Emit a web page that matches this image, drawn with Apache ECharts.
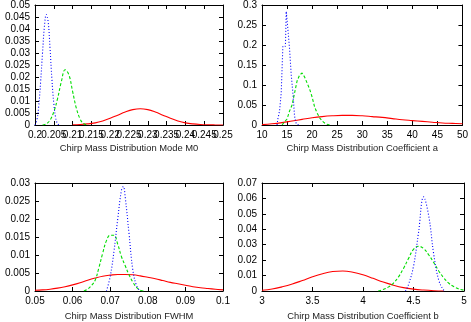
<!DOCTYPE html>
<html>
<head>
<meta charset="utf-8">
<script src="https://cdn.jsdelivr.net/npm/echarts@6/dist/echarts.min.js"></script>
<style>
  html, body { margin: 0; padding: 0; background: #fff; }
  #main { width: 471px; height: 322px; }
</style>
</head>
<body>
<div id="main"></div>
<script>
/* panel 1: Mode M0 */
const m0BlueX = [0.2000, 0.2005, 0.2010, 0.2015, 0.2020, 0.2025, 0.2030, 0.2035, 0.2040, 0.2045, 0.2050, 0.2055, 0.2060, 0.2065];
const m0BlueY = [0, 0.002, 0.008, 0.018, 0.030, 0.041, 0.046, 0.043, 0.032, 0.019, 0.009, 0.003, 0.0005, 0];
const m0GreenX = [0.202, 0.203, 0.204, 0.205, 0.206, 0.207, 0.208, 0.209, 0.210, 0.211, 0.212, 0.213, 0.214];
const m0GreenY = [0, 0.0005, 0.002, 0.0055, 0.011, 0.018, 0.023, 0.021, 0.014, 0.007, 0.0025, 0.0005, 0];
const m0RedX = [0.210, 0.212, 0.214, 0.216, 0.218, 0.220, 0.222, 0.224, 0.226, 0.228, 0.230, 0.232, 0.234, 0.236, 0.238, 0.240, 0.242, 0.244, 0.246, 0.248, 0.250];
const m0RedY = [0.00008, 0.0002, 0.00045, 0.0009, 0.0017, 0.0028, 0.0041, 0.0054, 0.0064, 0.0068, 0.0064, 0.0054, 0.0041, 0.0028, 0.0017, 0.0009, 0.00045, 0.0002, 0.00008, 0.00003, 0];
// tick labels of the M0 x axis (gnuplot prints them all, even overlapping)
const m0TickLabels = ['0.2', '0.205', '0.21', '0.215', '0.22', '0.225', '0.23', '0.235', '0.24', '0.245', '0.25'];

/* panel 2: coefficient a */
const aBlueX = [13.0, 13.33, 13.67, 14.0, 14.33, 14.67, 15.0, 15.33, 15.67, 16.0, 16.33, 16.67, 17.0, 17.33];
const aBlueY = [0, 0.015, 0.035, 0.08, 0.197, 0.197, 0.284, 0.24, 0.19, 0.125, 0.08, 0.022, 0.003, 0];
const aGreenX = [14.0, 14.5, 15.0, 15.5, 16.0, 16.5, 17.0, 17.5, 18.0, 18.5, 19.0, 19.5, 20.0, 20.5, 21.0, 21.5, 22.0, 22.5, 23.0, 23.5];
const aGreenY = [0, 0.008, 0.015, 0.035, 0.05, 0.08, 0.11, 0.125, 0.13, 0.12, 0.105, 0.09, 0.07, 0.045, 0.03, 0.018, 0.01, 0.005, 0.002, 0];
const aRedX = [10, 12, 14, 16, 18, 20, 22, 24, 26, 28, 30, 32, 34, 36, 38, 40, 42, 44, 46, 48, 50];
const aRedY = [0.001, 0.003, 0.006, 0.010, 0.014, 0.018, 0.021, 0.023, 0.024, 0.024, 0.023, 0.021, 0.019, 0.016, 0.013, 0.011, 0.009, 0.007, 0.005, 0.004, 0.003];

/* panel 3: FWHM */
const fwBlueX = [0.069, 0.070, 0.071, 0.072, 0.073, 0.0735, 0.074, 0.075, 0.076, 0.077, 0.078];
const fwBlueY = [0, 0.004, 0.011, 0.020, 0.028, 0.029, 0.026, 0.016, 0.006, 0.0015, 0];
const fwGreenX = [0.063, 0.064, 0.065, 0.066, 0.067, 0.068, 0.069, 0.070, 0.071, 0.072, 0.073, 0.074, 0.075, 0.076, 0.077, 0.078, 0.079];
const fwGreenY = [0, 0.0005, 0.0015, 0.003, 0.0065, 0.0105, 0.014, 0.0155, 0.0155, 0.013, 0.0095, 0.007, 0.0045, 0.0025, 0.001, 0.0002, 0];
const fwRedX = [0.050, 0.052, 0.054, 0.056, 0.058, 0.060, 0.062, 0.064, 0.066, 0.068, 0.070, 0.072, 0.074, 0.076, 0.078, 0.080, 0.082, 0.084, 0.086, 0.088, 0.090, 0.092, 0.094, 0.096, 0.098, 0.100];
const fwRedY = [0.0002, 0.0003, 0.0005, 0.0008, 0.0012, 0.0017, 0.0023, 0.0030, 0.0036, 0.0041, 0.0044, 0.0046, 0.0046, 0.0045, 0.0042, 0.0038, 0.0034, 0.0029, 0.0024, 0.0020, 0.0016, 0.0012, 0.0009, 0.0007, 0.0005, 0.0003];

/* panel 4: coefficient b */
const bBlueX = [4.42, 4.45, 4.5, 4.55, 4.6, 4.65, 4.7, 4.75, 4.8, 4.82];
const bBlueY = [0, 0.004, 0.016, 0.038, 0.061, 0.049, 0.024, 0.007, 0.0005, 0];
const bGreenX = [4.15, 4.2, 4.25, 4.3, 4.35, 4.4, 4.45, 4.5, 4.55, 4.6, 4.65, 4.7, 4.75, 4.8, 4.85, 4.9, 4.95, 5.0];
const bGreenY = [0, 0.001, 0.0025, 0.005, 0.009, 0.0145, 0.021, 0.027, 0.029, 0.0275, 0.0235, 0.0185, 0.013, 0.0085, 0.005, 0.0028, 0.0013, 0.0005];
const bRedX = [3.0, 3.1, 3.2, 3.3, 3.4, 3.5, 3.6, 3.7, 3.8, 3.9, 4.0, 4.1, 4.2, 4.3, 4.4, 4.5, 4.6, 4.7, 4.8];
const bRedY = [0.0005, 0.0013, 0.0027, 0.0045, 0.0068, 0.0092, 0.0112, 0.0126, 0.013, 0.0122, 0.0105, 0.0082, 0.0058, 0.0038, 0.0022, 0.0012, 0.0006, 0.0002, 0];

const axisTitles = [
  'Chirp Mass Distribution Mode M0',
  'Chirp Mass Distribution Coefficient a',
  'Chirp Mass Distribution FWHM',
  'Chirp Mass Distribution Coefficient b'
];
const xRanges = [[0.2, 0.25, 0.005], [10, 50, 5], [0.05, 0.1, 0.01], [3, 5, 0.5]];
const yRanges = [[0, 0.05, 0.005], [0, 0.3, 0.05], [0, 0.03, 0.005], [0, 0.07, 0.01]];

// 绘图区位置（像素）
const grids = [
  { left: 35, top: 5, width: 188, height: 120 },
  { left: 262, top: 5, width: 202, height: 120 },
  { left: 35, top: 183, width: 188, height: 110 },
  { left: 262, top: 183, width: 202, height: 110 }
];
const nameGaps = [19, 19, 21, 21];

const FONT = 'Liberation Sans';
const RED = '#ff0000', GREEN = '#00dd00', BLUE = '#0000ff';

function pairs(xs, ys) {
  return xs.map((x, i) => [x, ys[i]]);
}

const labelStyle = {
  color: '#000', fontFamily: FONT, fontSize: 10, margin: 5,
  hideOverlap: false, showMinLabel: true, showMaxLabel: true
};
const nameStyle = { color: '#222', fontFamily: FONT, fontSize: 9.4 };
const tickStyle = { show: true, inside: true, length: 4, lineStyle: { color: '#000' } };
const lineAxis = { show: true, onZero: false, lineStyle: { color: '#000', width: 1 } };

const xAxes = [], yAxes = [];
grids.forEach((g, i) => {
  const common = {
    gridIndex: i,
    type: 'value',
    splitLine: { show: false },
    axisLine: lineAxis,
    axisTick: tickStyle
  };
  // panel 0 gets its labels from a category axis (added below) so nothing is dropped
  const own = i !== 0;
  xAxes.push(Object.assign({}, common, {
    position: 'bottom',
    min: xRanges[i][0], max: xRanges[i][1], interval: xRanges[i][2],
    axisLabel: own ? labelStyle : { show: false },
    axisTick: own ? tickStyle : { show: false },
    name: own ? axisTitles[i] : '',
    nameLocation: 'middle',
    nameGap: nameGaps[i],
    nameTextStyle: nameStyle
  }));
  xAxes.push(Object.assign({}, common, {
    position: 'top',
    min: xRanges[i][0], max: xRanges[i][1], interval: xRanges[i][2],
    axisLabel: { show: false }
  }));
  yAxes.push(Object.assign({}, common, {
    position: 'left',
    min: yRanges[i][0], max: yRanges[i][1], interval: yRanges[i][2],
    axisLabel: labelStyle
  }));
  yAxes.push(Object.assign({}, common, {
    position: 'right',
    min: yRanges[i][0], max: yRanges[i][1], interval: yRanges[i][2],
    axisLabel: { show: false }
  }));
});

xAxes.push({
  gridIndex: 0,
  type: 'category',
  position: 'bottom',
  boundaryGap: false,
  data: m0TickLabels,
  axisLine: lineAxis,
  axisTick: Object.assign({}, tickStyle, { interval: 0 }),
  axisLabel: Object.assign({}, labelStyle, { interval: 0 }),
  splitLine: { show: false },
  name: axisTitles[0],
  nameLocation: 'middle',
  nameGap: nameGaps[0],
  nameTextStyle: nameStyle
});

function line(panel, data, color, dash, extra) {
  return Object.assign({
    type: 'line',
    xAxisIndex: panel * 2,
    yAxisIndex: panel * 2,
    data: data,
    symbol: 'none',
    smooth: 0.4,
    lineStyle: { color: color, width: 1.1, type: dash },
    silent: true,
    animation: false
  }, extra || {});
}

const DOT = [1, 2], DASH = [3, 2];

const series = [
  line(0, pairs(m0RedX, m0RedY), RED, 'solid'),
  line(0, pairs(m0GreenX, m0GreenY), GREEN, DASH),
  line(0, pairs(m0BlueX, m0BlueY), BLUE, DOT),

  line(1, pairs(aRedX, aRedY), RED, 'solid'),
  line(1, pairs(aGreenX, aGreenY), GREEN, DASH, { smooth: false }),
  line(1, pairs(aBlueX, aBlueY), BLUE, DOT, { smooth: false, step: 'middle' }),

  line(2, pairs(fwRedX, fwRedY), RED, 'solid'),
  line(2, pairs(fwGreenX, fwGreenY), GREEN, DASH),
  line(2, pairs(fwBlueX, fwBlueY), BLUE, DOT),

  line(3, pairs(bRedX, bRedY), RED, 'solid'),
  line(3, pairs(bGreenX, bGreenY), GREEN, DASH),
  line(3, pairs(bBlueX, bBlueY), BLUE, DOT)
];

const chart = echarts.init(document.getElementById('main'), null, { renderer: 'canvas' });
chart.setOption({
  animation: false,
  backgroundColor: '#fff',
  textStyle: { fontFamily: FONT },
  grid: grids,
  xAxis: xAxes,
  yAxis: yAxes,
  series: series
});
</script>
</body>
</html>
